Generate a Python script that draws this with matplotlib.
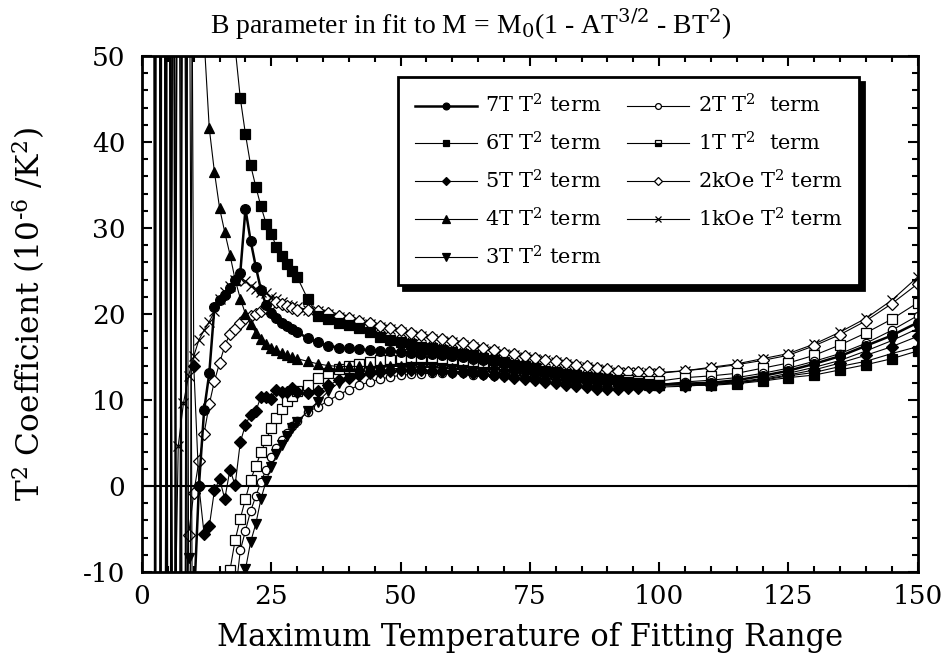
import matplotlib
matplotlib.use("Agg")
import matplotlib.pyplot as plt
from matplotlib.lines import Line2D
from matplotlib.ticker import MultipleLocator

plt.rcParams['font.family'] = 'DejaVu Serif'
plt.rcParams['mathtext.fontset'] = 'custom'
plt.rcParams['mathtext.rm'] = 'DejaVu Serif'
plt.rcParams['mathtext.it'] = 'DejaVu Serif:italic'
plt.rcParams['axes.unicode_minus'] = False

# maximum temperature of the fitting range (K)
temps = [2, 3, 4, 5, 6, 7, 8, 9, 10,
         11, 12, 13, 14, 15, 16, 17, 18, 19, 20,
         21, 22, 23, 24, 25, 26, 27, 28, 29, 30,
         32, 34, 36, 38, 40, 42, 44, 46, 48, 50,
         52, 54, 56, 58, 60, 62, 64, 66, 68, 70,
         72, 74, 76, 78, 80, 82, 84, 86, 88, 90,
         92, 94, 96, 98, 100,
         105, 110, 115, 120, 125, 130, 135, 140, 145, 150]

# B coefficient (1e-6 / K^2) for each field
b_7T = [500, -400, 300, -80, -60, -50, -40, -30, -14,
        0, 8.8, 13.1, 20.8, 21.6, 22.2, 23.0, 24.0, 24.8, 32.2,
        28.5, 25.5, 22.8, 21.0, 20.1, 19.5, 19.0, 18.6, 18.3, 17.9,
        17.2, 16.7, 16.3, 16.1, 16.0, 15.9, 15.8, 15.7, 15.7, 15.6,
        15.5, 15.4, 15.3, 15.2, 15.1, 15.0, 14.8, 14.6, 14.4, 14.2,
        14.0, 13.8, 13.6, 13.3, 13.1, 12.9, 12.7, 12.5, 12.3, 12.2,
        12.1, 12.0, 11.9, 11.9, 11.8,
        11.9, 12.0, 12.3, 12.8, 13.4, 14.2, 15.1, 16.3, 17.5, 19.0]
b_6T = [400, -300, 200, -150, 100, -100, 150, -80, 120,
        100, 90, 75, 66, 60, 56, 53, 51, 45.1, 40.9,
        37.3, 34.8, 32.5, 30.5, 29.3, 27.8, 26.7, 25.8, 25.0, 24.3,
        21.8, 19.8, 19.4, 19.0, 18.7, 18.4, 17.9, 17.3, 17.0, 16.7,
        16.5, 16.2, 16.0, 15.8, 15.6, 15.4, 15.2, 14.9, 14.65, 14.4,
        14.1, 13.9, 13.7, 13.4, 13.2, 13.0, 12.9, 12.7, 12.5, 12.4,
        12.2, 12.1, 12.0, 11.9, 11.8,
        11.7, 11.7, 11.9, 12.2, 12.6, 12.9, 13.5, 14.1, 14.8, 15.7]
b_5T = [300, -250, 180, -120, 90, -70, 110, 150, 14,
        0, -5.6, -4.7, -0.5, 0.8, -1.5, 1.9, 0.1, 5.1, 7.1,
        8.3, 8.7, 10.4, 10.3, 10.1, 11.2, 10.9, 10.9, 11.4, 10.9,
        10.8, 11.0, 11.7, 12.3, 12.6, 12.9, 13.1, 13.3, 13.4, 13.5,
        13.5, 13.5, 13.4, 13.4, 13.3, 13.2, 13.1, 13.0, 12.9, 12.8,
        12.6, 12.4, 12.3, 12.1, 12.0, 11.8, 11.6, 11.5, 11.3, 11.3,
        11.3, 11.4, 11.4, 11.5, 11.5,
        11.6, 11.8, 12.0, 12.4, 12.9, 13.5, 14.3, 15.2, 16.2, 17.4]
b_4T = [-300, 350, -200, 150, -120, 180, -90, 140, 110,
        70, 52, 41.6, 36.5, 32.3, 29.5, 26.9, 24.0, 21.8, 20.0,
        18.8, 17.8, 17.1, 16.5, 16.1, 15.8, 15.5, 15.2, 15.0, 14.8,
        14.5, 14.2, 14.0, 13.9, 13.9, 13.9, 13.9, 13.9, 13.9, 13.9,
        13.9, 13.8, 13.8, 13.7, 13.7, 13.6, 13.5, 13.4, 13.3, 13.2,
        13.1, 13.0, 12.9, 12.8, 12.7, 12.6, 12.4, 12.3, 12.2, 12.1,
        12.0, 11.9, 11.9, 11.8, 11.8,
        11.8, 11.8, 12.0, 12.3, 12.8, 13.2, 13.9, 14.5, 15.4, 16.2]
b_3T = [-200, 300, -250, 200, -100, 120, 180, -8.4, -60,
        -45, -38, -32, -27, -23, -19, -16, -14, -12.5, -9.7,
        -6.5, -4.4, -1.5, 0.6, 2.2, 3.7, 4.8, 5.8, 6.7, 7.4,
        8.7, 9.8, 11.0, 12.0, 12.5, 12.9, 13.2, 13.4, 13.6, 13.7,
        13.8, 13.8, 13.8, 13.7, 13.6, 13.5, 13.4, 13.3, 13.2, 13.0,
        12.9, 12.8, 12.6, 12.5, 12.4, 12.3, 12.1, 12.0, 11.9, 11.8,
        11.8, 11.7, 11.7, 11.7, 11.7,
        11.8, 11.9, 12.1, 12.5, 13.1, 13.8, 14.6, 15.7, 16.9, 18.3]
b_2T = [250, -200, 150, -100, 80, -120, 100, -50, -70,
        -55, -45, -37, -30, -25, -20, -16, -12.8, -7.5, -5.2,
        -2.9, -1.2, 0.5, 1.9, 3.4, 4.4, 5.3, 6.2, 7.0, 7.5,
        8.6, 9.2, 9.9, 10.6, 11.2, 11.7, 12.1, 12.4, 12.7, 12.85,
        13.0, 13.05, 13.1, 13.1, 13.1, 13.1, 12.9, 12.9, 12.8, 12.8,
        12.7, 12.6, 12.5, 12.4, 12.3, 12.2, 12.1, 12.0, 11.9, 11.9,
        11.8, 11.8, 11.8, 11.8, 11.8,
        12.1, 12.3, 12.6, 13.1, 13.7, 14.5, 15.4, 16.6, 18.1, 19.8]
b_1T = [-350, 250, -180, 120, -90, 100, -80, 90, -60,
        -40, -32, -26, -21, -17, -13.5, -9.8, -6.3, -3.8, -1.5,
        0.7, 2.3, 3.9, 5.4, 6.7, 7.9, 9.0, 9.9, 10.5, 11.0,
        11.8, 12.5, 13.1, 13.6, 13.9, 14.2, 14.4, 14.6, 14.6, 14.6,
        14.6, 14.5, 14.5, 14.4, 14.3, 14.2, 14.0, 13.9, 13.8, 13.7,
        13.5, 13.4, 13.3, 13.1, 13.0, 12.9, 12.7, 12.6, 12.5, 12.4,
        12.3, 12.3, 12.2, 12.2, 12.2,
        12.6, 12.8, 13.1, 13.7, 14.3, 15.2, 16.4, 17.8, 19.4, 21.3]
b_2kOe = [200, -300, 220, -150, 100, -80, -22, -5.7, -0.8,
          2.9, 6.1, 9.5, 12.2, 14.3, 16.3, 17.7, 18.3, 18.9, 19.5,
          19.8, 20.0, 20.4, 20.7, 21.2, 21.4, 21.2, 20.9, 20.7, 20.5,
          20.5, 20.3, 20.1, 19.8, 19.5, 19.2, 18.9, 18.6, 18.4, 18.1,
          17.8, 17.6, 17.3, 17.1, 16.9, 16.6, 16.4, 16.1, 15.8, 15.5,
          15.3, 15.1, 14.9, 14.7, 14.5, 14.3, 14.1, 13.9, 13.7, 13.6,
          13.4, 13.3, 13.3, 13.2, 13.2,
          13.4, 13.7, 14.1, 14.6, 15.2, 16.3, 17.6, 19.2, 21.2, 23.5]
b_1kOe = [-250, 200, -150, 120, -30, 4.65, 9.6, 12.8, 15.1,
          17.0, 18.1, 19.1, 20.3, 21.8, 22.6, 23.2, 24.0, 24.2, 23.8,
          23.3, 22.9, 22.6, 22.4, 22.0, 21.7, 21.4, 21.1, 20.9, 20.8,
          20.5, 20.3, 20.0, 19.7, 19.4, 19.1, 18.8, 18.5, 18.2, 17.9,
          17.6, 17.4, 17.1, 16.9, 16.7, 16.4, 16.2, 15.9, 15.7, 15.4,
          15.2, 15.0, 14.8, 14.6, 14.4, 14.2, 14.0, 13.8, 13.6, 13.5,
          13.3, 13.2, 13.2, 13.1, 13.1,
          13.4, 13.8, 14.2, 14.8, 15.4, 16.5, 17.9, 19.5, 21.6, 24.3]

labels = ['7T T$^2$ term', '6T T$^2$ term', '5T T$^2$ term', '4T T$^2$ term',
          '3T T$^2$ term', '2T T$^2$  term', '1T T$^2$  term',
          '2kOe T$^2$ term', '1kOe T$^2$ term']
series = [b_7T, b_6T, b_5T, b_4T, b_3T, b_2T, b_1T, b_2kOe, b_1kOe]

# marker, face colour, marker size, line width
styles = [('o', 'black', 7.0, 1.8),
          ('s', 'black', 7.0, 0.8),
          ('D', 'black', 6.5, 0.8),
          ('^', 'black', 7.5, 0.8),
          ('v', 'black', 7.5, 0.8),
          ('o', 'white', 6.0, 0.8),
          ('s', 'white', 6.5, 0.8),
          ('D', 'white', 6.5, 0.8),
          ('x', 'black', 7.0, 0.8)]

fig = plt.figure(figsize=(9.47, 6.57), dpi=100)
ax = fig.add_axes([0.150, 0.1294, 0.819, 0.7854])

ax.axhline(0, color='black', lw=1.5, zorder=1)

for vals, (mk, fc, ms, lw) in reversed(list(zip(series, styles))):
    ax.plot(temps, vals, color='black', lw=lw, marker=mk, mfc=fc,
            mec='black', ms=ms, mew=0.9, zorder=2)

ax.set_xlim(0, 150)
ax.set_ylim(-10, 50)
ax.xaxis.set_major_locator(MultipleLocator(25))
ax.xaxis.set_minor_locator(MultipleLocator(5))
ax.yaxis.set_major_locator(MultipleLocator(10))
ax.yaxis.set_minor_locator(MultipleLocator(2))
ax.tick_params(which='both', direction='in', top=True, right=True, width=1.5)
ax.tick_params(which='major', length=7.5, labelsize=19)
ax.tick_params(axis='x', which='major', pad=9)
ax.tick_params(axis='y', which='major', pad=12)
ax.tick_params(which='minor', length=4.5)
for sp in ax.spines.values():
    sp.set_linewidth(2)

ax.set_xlabel('Maximum Temperature of Fitting Range', fontsize=22, labelpad=9)
ax.set_ylabel('T$^2$ Coefficient (10$^{\u2010 6}$ /K$^2$)', fontsize=22.5,
              labelpad=26)
fig.suptitle('B parameter in fit to M = M$_0$(1 - AT$^{3/2}$ - BT$^2$)',
             family='Liberation Serif', fontsize=20, x=0.497, y=0.99)

handles = []
for (mk, fc, ms, lw), lab in zip(styles, labels):
    h = Line2D([], [], color='black', lw=lw, marker=mk, mfc=fc,
               mec='black', ms=ms * 0.7, mew=0.9)
    if lab.startswith('1T'):
        h.set_fillstyle('bottom')
        h.set_markerfacecolor('black')
        h.set_markerfacecoloralt('white')
    handles.append(h)

leg = ax.legend(handles, labels, ncol=2, loc='upper left',
                bbox_to_anchor=(0.330, 0.959), fontsize=15, frameon=True,
                fancybox=False, edgecolor='black', handlelength=3.0,
                handletextpad=0.4, labelspacing=0.7, columnspacing=1.2,
                borderpad=0.8, borderaxespad=0,
                shadow={'ox': 3.6, 'oy': -3.6, 'color': 'black', 'alpha': 1})
leg.get_frame().set_linewidth(2)
leg.get_frame().set_alpha(1)

fig.savefig('out.png', dpi=100)
